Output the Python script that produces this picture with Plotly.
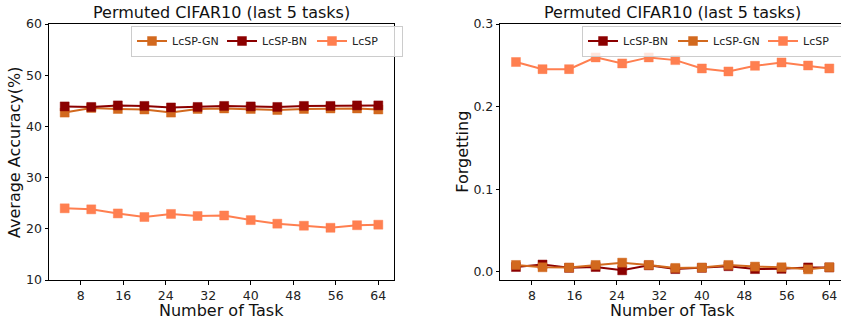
import plotly.graph_objects as go

# ---- data ----
tasks = [5, 10, 15, 20, 25, 30, 35, 40, 45, 50, 55, 60, 64]
x_ticks = [8, 16, 24, 32, 40, 48, 56, 64]

acc_gn = [42.7, 43.6, 43.4, 43.3, 42.7, 43.4, 43.5, 43.4, 43.2, 43.4, 43.5, 43.5, 43.3]
acc_bn = [43.9, 43.8, 44.1, 44.0, 43.7, 43.8, 44.0, 43.9, 43.8, 44.0, 44.0, 44.1, 44.1]
acc_lcsp = [24.0, 23.8, 23.0, 22.3, 22.9, 22.5, 22.6, 21.7, 21.0, 20.6, 20.2, 20.7, 20.8]

fgt_bn = [0.006, 0.009, 0.005, 0.006, 0.002, 0.008, 0.0035, 0.005, 0.007, 0.0035, 0.0038, 0.0055, 0.0055]
fgt_gn = [0.0085, 0.0057, 0.0053, 0.0085, 0.0113, 0.0085, 0.0049, 0.0053, 0.0085, 0.0065, 0.0057, 0.0032, 0.0057]
fgt_lcsp = [0.254, 0.2454, 0.2454, 0.2596, 0.2523, 0.2596, 0.2563, 0.2462, 0.2426, 0.2494, 0.2535, 0.2498, 0.2462]

title_text = "Permuted CIFAR10 (last 5 tasks)"

C_GN = "#D2691E"
C_BN = "#8B0000"
C_LC = "#FF7F50"
FONT = "DejaVu Sans"
W, H = 841, 320


def edge(c, a=0.45):
    c = c.lstrip("#")
    r, g, b = int(c[0:2], 16), int(c[2:4], 16), int(c[4:6], 16)
    return f"rgba({r},{g},{b},{a})"


def trace(x, y, name, color, xa, ya, legend):
    return go.Scatter(
        x=x, y=y, name=name, mode="lines+markers",
        line=dict(color=color, width=2),
        marker=dict(symbol="square", size=9, color=color,
                    line=dict(color=edge(color), width=1)),
        xaxis=xa, yaxis=ya, legend=legend,
    )


fig = go.Figure()
fig.add_trace(trace(tasks, acc_gn, "LcSP-GN", C_GN, "x", "y", "legend"))
fig.add_trace(trace(tasks, acc_bn, "LcSP-BN", C_BN, "x", "y", "legend"))
fig.add_trace(trace(tasks, acc_lcsp, "LcSP", C_LC, "x", "y", "legend"))
fig.add_trace(trace(tasks, fgt_bn, "LcSP-BN", C_BN, "x2", "y2", "legend2"))
fig.add_trace(trace(tasks, fgt_gn, "LcSP-GN", C_GN, "x2", "y2", "legend2"))
fig.add_trace(trace(tasks, fgt_lcsp, "LcSP", C_LC, "x2", "y2", "legend2"))

span = max(tasks) - min(tasks)
xlo = min(tasks) - 0.05 * span
xhi = max(tasks) + 0.05 * span

L0, L1 = 49 / W, 394 / W
R0, R1 = 500.3 / W, 1.0
Y0, Y1 = 1 - 280 / H, 1 - 24 / H
# right panel is clipped at the page edge
r_hi = xlo + (xhi - xlo) * (841 - 500.3) / (845 - 500.3)

axis_common = dict(
    showline=True, linecolor="black", linewidth=1,
    ticks="outside", ticklen=3.5, tickwidth=1, tickcolor="black",
    showgrid=False, zeroline=False, automargin=False,
    tickfont=dict(family=FONT, size=12.5, color="#222"),
)

leg_common = dict(
    orientation="h", xanchor="left", yanchor="top",
    bordercolor="#cccccc", borderwidth=1, bgcolor="rgba(255,255,255,0.8)",
    font=dict(family=FONT, size=11, color="#222"),
    entrywidth=45, itemwidth=30, traceorder="normal", tracegroupgap=0,
)

fig.update_layout(
    width=W, height=H,
    margin=dict(l=0, r=0, t=0, b=0, autoexpand=False),
    paper_bgcolor="white", plot_bgcolor="white",
    font=dict(family=FONT, color="#222"),
    xaxis=dict(domain=[L0, L1], range=[xlo, xhi], tickvals=x_ticks, mirror=True,
               anchor="y", **axis_common),
    yaxis=dict(domain=[Y0, Y1], range=[10, 60], tickvals=[10, 20, 30, 40, 50, 60],
               mirror=True, anchor="x", **axis_common),
    xaxis2=dict(domain=[R0, R1], range=[xlo, r_hi], tickvals=x_ticks, mirror=True,
                anchor="y2", **axis_common),
    yaxis2=dict(domain=[Y0, Y1], range=[-0.0097, 0.3], tickvals=[0, 0.1, 0.2, 0.3],
                tickformat=".1f", anchor="x2", **axis_common),
    legend=dict(x=131 / W, y=1 - 25.5 / H, **leg_common),
    legend2=dict(x=582 / W, y=1 - 25.5 / H, **leg_common),
    showlegend=True,
)

ann = []
for cx in [(49 + 394) / 2 / W, 672.8 / W]:
    ann.append(dict(text=title_text, x=cx, y=1 - 12.5 / H, xref="paper", yref="paper",
                    xanchor="center", yanchor="middle", showarrow=False,
                    font=dict(family=FONT, size=16, color="#111")))
    ann.append(dict(text="Number of Task", x=cx if cx < 0.5 else 672.5 / W, y=1 - 310 / H,
                    xref="paper", yref="paper", xanchor="center", yanchor="middle",
                    showarrow=False, font=dict(family=FONT, size=16, color="#111")))
ann.append(dict(text="Average Accuracy(%)", x=14 / W, y=1 - 152 / H, xref="paper", yref="paper",
                xanchor="center", yanchor="middle", textangle=-90, showarrow=False,
                font=dict(family=FONT, size=16, color="#111")))
ann.append(dict(text="Forgetting", x=461.7 / W, y=1 - 152 / H, xref="paper", yref="paper",
                xanchor="center", yanchor="middle", textangle=-90, showarrow=False,
                font=dict(family=FONT, size=16, color="#111")))
fig.update_layout(annotations=ann)

fig.write_html("out.html")
